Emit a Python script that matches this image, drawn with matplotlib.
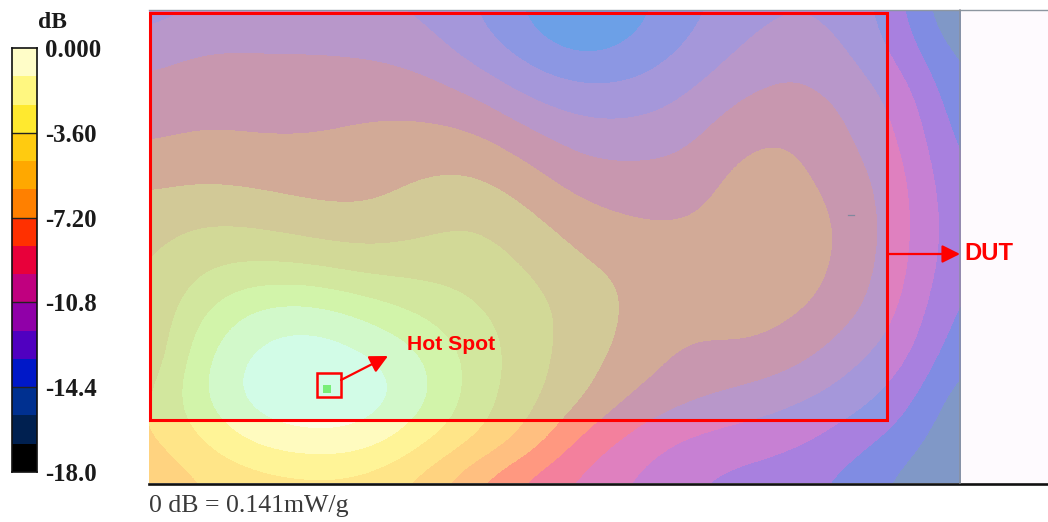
import numpy as np
import matplotlib
matplotlib.use("Agg")
import matplotlib.pyplot as plt
from matplotlib.colors import BoundaryNorm, ListedColormap
from matplotlib.patches import Rectangle

W, H = 1048, 522

# colour bar, bright end first
BAND_COLORS = ["#fffdc8", "#fff780", "#ffe92f", "#ffcb10", "#ffa800",
               "#ff8000", "#ff3000", "#e8003a", "#c0007f", "#9000a8",
               "#5000c0", "#0018c8", "#003090", "#002050", "#000000"]
BAND_EDGES_DB = [0.0, -1.2, -2.4, -3.6, -4.8, -6.0, -7.2, -8.4, -9.6, -10.8,
                 -12.0, -13.2, -14.4, -15.6, -16.8, -18.0]
TICKS_DB = [0.0, -3.6, -7.2, -10.8, -14.4, -18.0]
TICK_LABELS = ["0.000", "-3.60", "-7.20", "-10.8", "-14.4", "-18.0"]

# scan positions, in picture pixels
SCAN_X = [149, 203, 257, 311, 365, 419, 473, 527, 581, 635, 689, 743, 797, 851, 905, 961]
SCAN_Y = [10, 53, 96, 139, 182, 225, 268, 311, 354, 397, 440, 483]

# counted in 1.2 dB contour steps below the peak
ROW_010 = [9.6, 8.9, 8.8, 8.85, 9.0, 9.1, 9.95, 11.1, 12.8, 11.3, 10.3, 9.4, 9.0, 9.4, 11.0, 13.4]
ROW_053 = [8.3, 7.9, 7.95, 7.95, 8.05, 8.4, 9.4, 10.4, 11.15, 10.7, 9.8, 8.8, 8.25, 9.0, 10.5, 12.4]
ROW_096 = [7.7, 7.4, 7.47, 7.47, 7.35, 7.4, 7.95, 9.1, 9.65, 9.6, 8.9, 7.95, 7.65, 8.3, 9.5, 12.0]
ROW_139 = [7.1, 6.85, 6.97, 6.95, 6.75, 6.65, 6.7, 7.6, 8.45, 8.5, 8.2, 7.05, 6.95, 8.0, 9.1, 11.5]
ROW_182 = [6.2, 6.03, 6.2, 6.4, 6.45, 5.9, 5.75, 6.5, 7.45, 7.6, 7.5, 6.5, 6.75, 7.5, 8.8, 11.1]
ROW_225 = [5.35, 4.95, 5.1, 5.5, 5.65, 5.3, 4.9, 5.65, 6.5, 6.95, 7.0, 6.45, 6.4, 7.25, 8.75, 10.9]
ROW_268 = [5.1, 4.05, 3.8, 3.95, 4.4, 4.35, 4.4, 5.0, 5.85, 6.2, 6.3, 6.3, 6.4, 7.35, 8.85, 11.0]
ROW_311 = [4.95, 3.05, 1.7, 1.5, 2.3, 3.15, 3.85, 4.55, 5.4, 6.25, 6.6, 6.5, 6.85, 7.7, 9.2, 11.4]
ROW_354 = [5.1, 2.1, 0.65, 0.3, 0.8, 1.85, 3.35, 4.5, 5.6, 6.35, 7.3, 7.1, 7.6, 8.7, 9.7, 11.9]
ROW_397 = [4.3, 1.9, 0.35, 0.05, 0.2, 1.5, 3.4, 4.7, 5.8, 7.2, 7.8, 8.3, 8.85, 9.5, 10.6, 12.7]
ROW_440 = [4.2, 3.0, 1.65, 1.1, 1.35, 2.7, 3.9, 5.2, 7.3, 8.4, 9.2, 9.5, 9.8, 10.6, 11.5, 13.0]
ROW_483 = [5.0, 4.0, 3.6, 3.4, 3.5, 4.3, 6.0, 7.4, 8.3, 9.2, 10.0, 10.4, 10.7, 11.4, 12.4, 13.2]
STEP_DB = 1.2

SAR_DB = -STEP_DB * np.array([ROW_010, ROW_053, ROW_096, ROW_139, ROW_182, ROW_225,
                              ROW_268, ROW_311, ROW_354, ROW_397, ROW_440, ROW_483])

cmap = ListedColormap(BAND_COLORS[::-1])
norm = BoundaryNorm(BAND_EDGES_DB[::-1], cmap.N)
serif = ["Liberation Serif", "DejaVu Serif"]
sans = ["Liberation Sans", "DejaVu Sans"]

fig = plt.figure(figsize=(W / 100, H / 100), dpi=100, facecolor="white")

# whole figure in picture pixels
ax = fig.add_axes([0, 0, 1, 1])
ax.axis("off")

dx = (SCAN_X[-1] - SCAN_X[0]) / (len(SCAN_X) - 1) / 2
dy = (SCAN_Y[-1] - SCAN_Y[0]) / (len(SCAN_Y) - 1) / 2
im = ax.imshow(SAR_DB, cmap=cmap, norm=norm, alpha=0.5, aspect="auto",
               interpolation="bicubic", interpolation_stage="data",
               extent=(SCAN_X[0] - dx, SCAN_X[-1] + dx, SCAN_Y[-1] + dy, SCAN_Y[0] - dy),
               zorder=1)
im.set_clip_path(Rectangle((SCAN_X[0], SCAN_Y[0]), SCAN_X[-1] - SCAN_X[0],
                           SCAN_Y[-1] - SCAN_Y[0], transform=ax.transData))
ax.set_xlim(0, W)
ax.set_ylim(H, 0)

# blank strip right of the scan area, frame lines
ax.add_patch(Rectangle((961, 10), 87, 473, facecolor="#fefafe", edgecolor="none", zorder=1))
ax.plot([149, W], [9.5, 9.5], color="#8d96a0", lw=1.0, zorder=2)
ax.plot([149, W], [483.5, 483.5], color="#111111", lw=1.9, zorder=2)
ax.plot([960, 960], [10, 483], color="#8b9098", lw=1.2, alpha=0.8, zorder=2)
ax.plot([848, 854], [215, 215], color="#9a6f88", lw=0.9, zorder=2)

# DUT box
ax.add_patch(Rectangle((150, 13), 737, 407, facecolor="#20f4f8", edgecolor="none",
                       alpha=0.2, zorder=3))
ax.add_patch(Rectangle((150, 13), 737, 407, fill=False, edgecolor="#ff0000", lw=2.2, zorder=4))

# hot spot marker
ax.add_patch(Rectangle((323, 385), 8, 8, facecolor="#78ee78", edgecolor="none", zorder=4))
ax.add_patch(Rectangle((316.5, 372.5), 24, 24, fill=False, edgecolor="#ff0000", lw=1.8, zorder=5))

arrow_style = dict(color="#ff0000", lw=1.6, shrinkA=0, shrinkB=0, mutation_scale=15,
                   arrowstyle="-|>,head_length=0.72,head_width=0.36")
ax.annotate("", xy=(388, 356), xytext=(341, 380), arrowprops=arrow_style, zorder=5)
ax.annotate("", xy=(960, 254), xytext=(889, 254), arrowprops=arrow_style, zorder=5)

ax.text(407, 344, "Hot Spot", color="#ff0000", fontsize=15.2, fontweight="bold",
        family=sans, va="center", ha="left", zorder=6)
ax.text(964, 254, "DUT", color="#ff0000", fontsize=17.2, fontweight="bold",
        family=sans, va="center", ha="left", zorder=6)
ax.text(149, 506, "0 dB = 0.141mW/g", color="#3a3a3a", fontsize=18.6,
        family=serif, va="center", ha="left")

# colour bar on its own dB axis
cax = fig.add_axes([12 / W, 1 - 472 / H, 25 / W, 424 / H])
cax.pcolormesh([0, 1], BAND_EDGES_DB[::-1], np.array(BAND_EDGES_DB[1:][::-1])[:, None] + 0.6,
               cmap=cmap, norm=norm)
cax.set_ylim(-18, 0)
cax.set_xticks([])
cax.set_yticks(TICKS_DB)
cax.set_yticklabels(TICK_LABELS, family=serif, fontsize=17.8, fontweight="bold", color="#1a1a1a")
cax.yaxis.tick_right()
cax.tick_params(axis="y", length=0, pad=6)
for spine in cax.spines.values():
    spine.set_linewidth(1.2)
    spine.set_edgecolor("#111111")
for tick in TICKS_DB[1:-1]:
    cax.axhline(tick, color="#222222", lw=1.0)
ax.text(52, 23, "dB", family=serif, fontsize=17, fontweight="bold", color="#1a1a1a",
        ha="center", va="center")

fig.savefig("out.png", dpi=100)
